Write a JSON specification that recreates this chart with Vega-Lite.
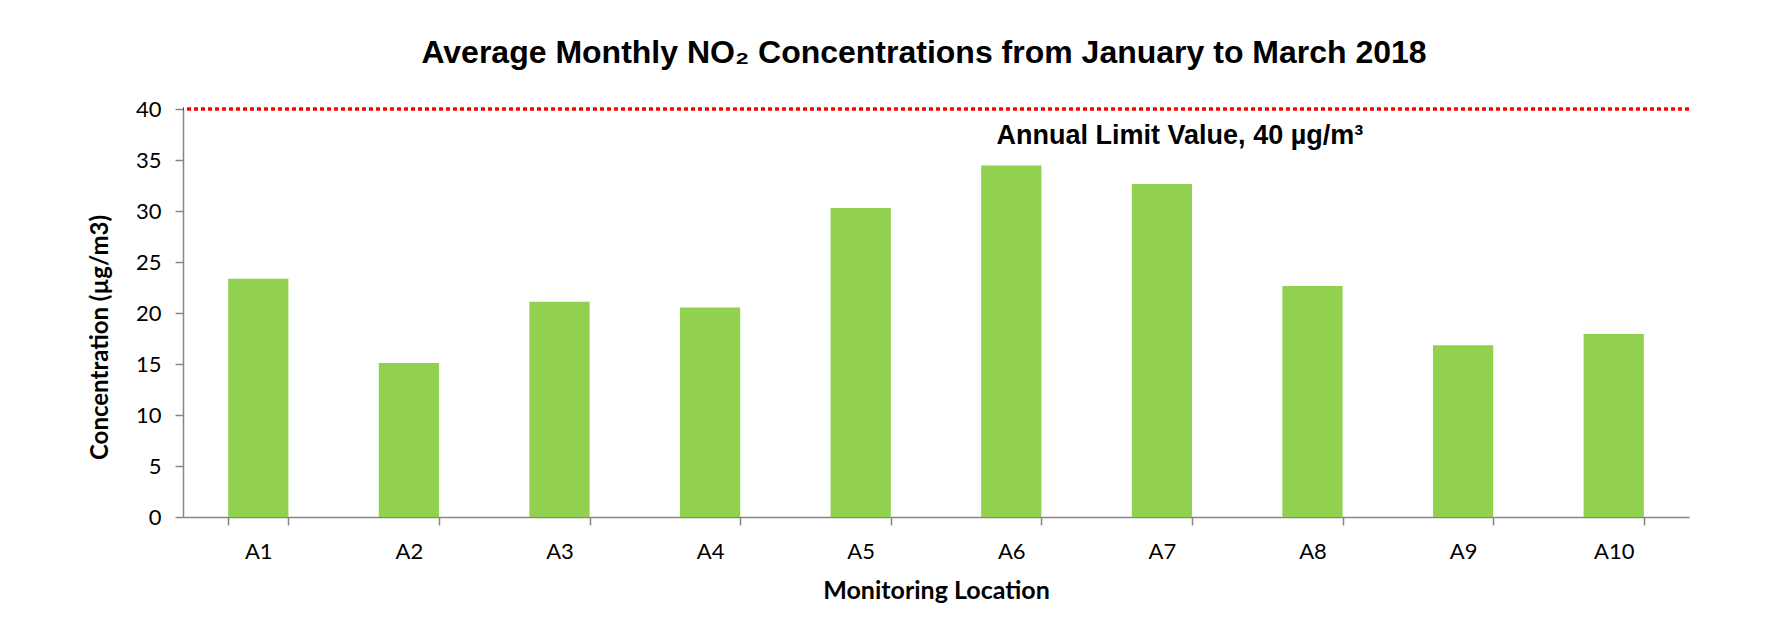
{
  "$schema": "https://vega.github.io/schema/vega-lite/v6.json",
  "width": 1506,
  "height": 408,
  "autosize": {"type": "none"},
  "padding": {"left": 183, "top": 109, "right": 102, "bottom": 126},
  "background": "white",
  "title": {
    "text": "Average Monthly NO₂ Concentrations from January to March 2018",
    "font": "Liberation Sans",
    "fontSize": 32,
    "fontWeight": "bold",
    "color": "black",
    "anchor": "middle",
    "baseline": "alphabetic",
    "offset": 3,
    "dx": -12
  },
  "config": {"view": {"stroke": null}},
  "layer": [
    {
      "data": {"values": [
        {"location": "A1", "concentration": 23.35},
        {"location": "A2", "concentration": 15.1},
        {"location": "A3", "concentration": 21.1},
        {"location": "A4", "concentration": 20.55},
        {"location": "A5", "concentration": 30.3},
        {"location": "A6", "concentration": 34.45},
        {"location": "A7", "concentration": 32.65},
        {"location": "A8", "concentration": 22.65},
        {"location": "A9", "concentration": 16.85},
        {"location": "A10", "concentration": 17.95}
      ]},
      "mark": {"type": "bar", "color": "#92D050"},
      "encoding": {
        "x": {
          "field": "location", "type": "nominal", "sort": null,
          "scale": {"paddingInner": 0.6, "paddingOuter": 0.3},
          "axis": {
            "title": "Monitoring Location",
            "labelAngle": 0,
            "tickBand": "extent",
            "domainColor": "#868686", "domainWidth": 1.5,
            "tickColor": "#868686", "tickWidth": 1.5, "tickSize": 8,
            "labelFont": "Lato", "labelFontSize": 22, "labelColor": "black", "labelPadding": 16,
            "titleFont": "Lato", "titleFontSize": 25, "titleFontWeight": "bold", "titleColor": "black", "titlePadding": 16
          }
        },
        "y": {
          "field": "concentration", "type": "quantitative",
          "scale": {"domain": [0, 40], "nice": false},
          "axis": {
            "title": "Concentration (µg/m3)",
            "values": [0, 5, 10, 15, 20, 25, 30, 35, 40],
            "grid": false,
            "domainColor": "#868686", "domainWidth": 1.5,
            "tickColor": "#868686", "tickWidth": 1.5, "tickSize": 8,
            "labelFont": "Lato", "labelFontSize": 22, "labelColor": "black", "labelPadding": 14,
            "titleFont": "Lato", "titleFontSize": 24, "titleFontWeight": "bold", "titleColor": "black", "titlePadding": 23,
            "titleY": 228
          }
        }
      }
    },
    {
      "data": {"values": [{"limit": 40}]},
      "mark": {"type": "rule", "color": "#FF0000", "strokeWidth": 3.5, "strokeDash": [4, 3]},
      "encoding": {
        "y": {"field": "limit", "type": "quantitative", "title": "Concentration (µg/m3)"}
      }
    },
    {
      "data": {"values": [{"label": "Annual Limit Value, 40 µg/m³", "location": "A7", "limit": 40}]},
      "mark": {"type": "text", "font": "Liberation Sans", "fontSize": 27, "fontWeight": "bold", "align": "center", "baseline": "alphabetic", "dy": 35, "dx": 18, "color": "black"},
      "encoding": {
        "x": {"field": "location", "type": "nominal", "sort": null},
        "y": {"field": "limit", "type": "quantitative", "title": "Concentration (µg/m3)"},
        "text": {"field": "label"}
      }
    }
  ]
}
